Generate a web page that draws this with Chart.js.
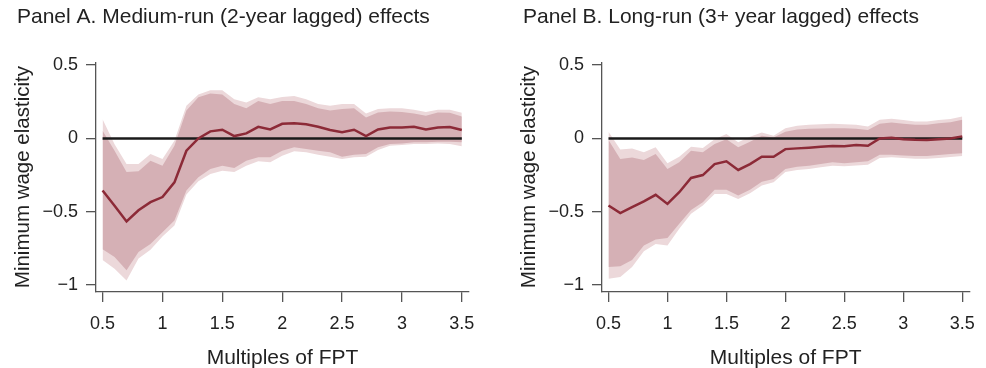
<!DOCTYPE html>
<html>
<head>
<meta charset="utf-8">
<script src="https://cdn.jsdelivr.net/npm/chart.js@4.4.1/dist/chart.umd.min.js"></script>
<style>
  body { margin: 0; background: #fff; }
  #wrap { position: relative; width: 986px; height: 368px; }
  canvas { position: absolute; top: 0; }
</style>
</head>
<body>
<div id="wrap">
  <canvas id="panelA" width="506" height="368" style="left:0"></canvas>
  <canvas id="panelB" width="480" height="368" style="left:506px"></canvas>
</div>
<script>
// Multiples of FPT (x) and tick values
var multiples = [0.5,0.6,0.7,0.8,0.9,1.0,1.1,1.2,1.3,1.4,1.5,1.6,1.7,1.8,1.9,2.0,
                 2.1,2.2,2.3,2.4,2.5,2.6,2.7,2.8,2.9,3.0,3.1,3.2,3.3,3.4,3.5];
var xTicks = [0.5, 1, 1.5, 2, 2.5, 3, 3.5];
var yTicks = [-1, -0.5, 0, 0.5];

// Panel A: medium-run (2-year lagged) effects
var estA     = [-0.356,-0.46,-0.567,-0.49,-0.435,-0.40,-0.30,-0.084,0.0,0.048,0.059,0.016,0.034,0.079,0.061,0.10,
                0.104,0.097,0.079,0.057,0.043,0.059,0.016,0.061,0.075,0.075,0.079,0.061,0.075,0.077,0.057];
var innerHiA = [0.052,-0.084,-0.23,-0.224,-0.152,-0.186,-0.05,0.19,0.28,0.306,0.30,0.234,0.206,0.256,0.234,0.256,
                0.256,0.234,0.206,0.19,0.20,0.206,0.143,0.177,0.184,0.18,0.17,0.154,0.177,0.175,0.15];
var innerLoA = [-0.757,-0.81,-0.90,-0.775,-0.72,-0.64,-0.56,-0.356,-0.265,-0.209,-0.186,-0.202,-0.152,-0.129,-0.129,-0.084,
                -0.061,-0.073,-0.084,-0.095,-0.125,-0.111,-0.107,-0.061,-0.039,-0.034,-0.027,-0.027,-0.023,-0.023,-0.027];
var outerHiA = [0.13,-0.04,-0.175,-0.175,-0.107,-0.14,-0.016,0.222,0.30,0.329,0.329,0.268,0.245,0.28,0.268,0.283,
                0.29,0.268,0.234,0.222,0.234,0.234,0.17,0.20,0.205,0.205,0.195,0.18,0.195,0.195,0.175];
var outerLoA = [-0.83,-0.89,-0.97,-0.82,-0.76,-0.67,-0.594,-0.383,-0.293,-0.243,-0.22,-0.23,-0.186,-0.156,-0.163,-0.118,
                -0.088,-0.095,-0.111,-0.125,-0.14,-0.129,-0.125,-0.079,-0.05,-0.045,-0.039,-0.039,-0.034,-0.039,-0.054];

// Panel B: long-run (3+ year lagged) effects
var estB     = [-0.458,-0.51,-0.469,-0.43,-0.385,-0.447,-0.367,-0.27,-0.25,-0.175,-0.156,-0.215,-0.175,-0.125,-0.125,-0.073,
                -0.068,-0.063,-0.057,-0.052,-0.054,-0.045,-0.05,0.0,0.005,-0.005,-0.009,-0.011,-0.005,0.0,0.014];
var innerHiB = [-0.011,-0.14,-0.13,-0.147,-0.107,-0.209,-0.163,-0.084,-0.095,-0.039,-0.005,-0.061,-0.023,0.018,0.007,0.045,
                0.061,0.066,0.068,0.07,0.07,0.066,0.057,0.10,0.109,0.10,0.093,0.093,0.104,0.111,0.127];
var innerLoB = [-0.878,-0.873,-0.83,-0.73,-0.69,-0.68,-0.583,-0.488,-0.435,-0.351,-0.351,-0.39,-0.351,-0.295,-0.277,-0.209,
                -0.193,-0.186,-0.175,-0.163,-0.17,-0.163,-0.156,-0.111,-0.111,-0.116,-0.12,-0.12,-0.113,-0.107,-0.102];
var outerHiB = [0.045,-0.075,-0.068,-0.095,-0.061,-0.17,-0.125,-0.057,-0.066,-0.005,0.03,-0.027,0.011,0.041,0.018,0.07,
                0.086,0.093,0.097,0.10,0.097,0.093,0.082,0.127,0.134,0.125,0.116,0.116,0.125,0.132,0.15];
var outerLoB = [-0.957,-0.946,-0.878,-0.77,-0.72,-0.73,-0.617,-0.514,-0.458,-0.379,-0.379,-0.413,-0.374,-0.322,-0.299,-0.23,
                -0.215,-0.209,-0.197,-0.186,-0.19,-0.184,-0.18,-0.134,-0.129,-0.134,-0.138,-0.138,-0.134,-0.127,-0.12];

var FONT = '"Liberation Sans", Arial, Helvetica, sans-serif';
var AXIS = '#555';

function pts(vals) {
  return vals.map(function (v, i) { return { x: multiples[i], y: v }; });
}

function band(vals, color, fill) {
  return { data: pts(vals), borderWidth: 0, pointRadius: 0, backgroundColor: color, fill: fill };
}

function fmt(v) {
  return v < 0 ? '\u2212' + String(-v) : String(v);
}

function makePanel(id, title, est, innerLo, innerHi, outerLo, outerHi, padRight) {
  var ctx = document.getElementById(id).getContext('2d');
  return new Chart(ctx, {
    type: 'line',
    data: {
      datasets: [
        { data: pts(est), borderColor: '#8c2a37', borderWidth: 2.5, pointRadius: 0, fill: false },
        { data: [{ x: multiples[0], y: 0 }, { x: multiples[multiples.length - 1], y: 0 }],
          borderColor: '#1a1a1a', borderWidth: 2.5, pointRadius: 0, fill: false },
        band(innerHi, '#d5b0b5', '+1'),
        band(innerLo, '#d5b0b5', false),
        band(outerHi, '#ecd8da', '+1'),
        band(outerLo, '#ecd8da', false)
      ]
    },
    options: {
      responsive: false,
      animation: false,
      elements: { line: { tension: 0 } },
      layout: { padding: { left: 17, right: padRight, top: 5, bottom: 0 } },
      plugins: {
        legend: { display: false },
        tooltip: { enabled: false },
        title: {
          display: true, text: title, align: 'start', color: '#222',
          font: { family: FONT, size: 21, weight: 'normal', lineHeight: 1.2 },
          padding: { top: 0, bottom: 32 }
        }
      },
      scales: {
        x: {
          type: 'linear', min: 0.445, max: 3.56,
          afterBuildTicks: function (s) { s.ticks = xTicks.map(function (v) { return { value: v }; }); },
          afterFit: function (s) { s.height = 76; },
          grid: { drawOnChartArea: false, drawTicks: true, tickLength: 10, color: AXIS, lineWidth: 1.3 },
          border: { display: true, color: AXIS, width: 1.3 },
          ticks: { color: '#222', padding: 11, maxRotation: 0, font: { family: FONT, size: 18 }, callback: fmt },
          title: { display: true, text: 'Multiples of FPT', color: '#222',
                   font: { family: FONT, size: 21, lineHeight: 0.9 }, padding: { top: 0, bottom: 0 } }
        },
        y: {
          min: -1.048, max: 0.52,
          afterBuildTicks: function (s) { s.ticks = yTicks.map(function (v) { return { value: v }; }); },
          afterFit: function (s) { s.width = 79; },
          grid: { drawOnChartArea: false, drawTicks: true, tickLength: 10, color: AXIS, lineWidth: 1.3 },
          border: { display: true, color: AXIS, width: 1.3 },
          ticks: { color: '#222', padding: 8, font: { family: FONT, size: 18 }, callback: fmt },
          title: { display: true, text: 'Minimum wage elasticity', color: '#222',
                   font: { family: FONT, size: 20.5, lineHeight: 0.9 }, padding: { top: -2.5, bottom: 0 } }
        }
      }
    }
  });
}

makePanel('panelA', 'Panel A. Medium-run (2-year lagged) effects',
          estA, innerLoA, innerHiA, outerLoA, outerHiA, 37);
makePanel('panelB', 'Panel B. Long-run (3+ year lagged) effects',
          estB, innerLoB, innerHiB, outerLoB, outerHiB, 11);
</script>
</body>
</html>
